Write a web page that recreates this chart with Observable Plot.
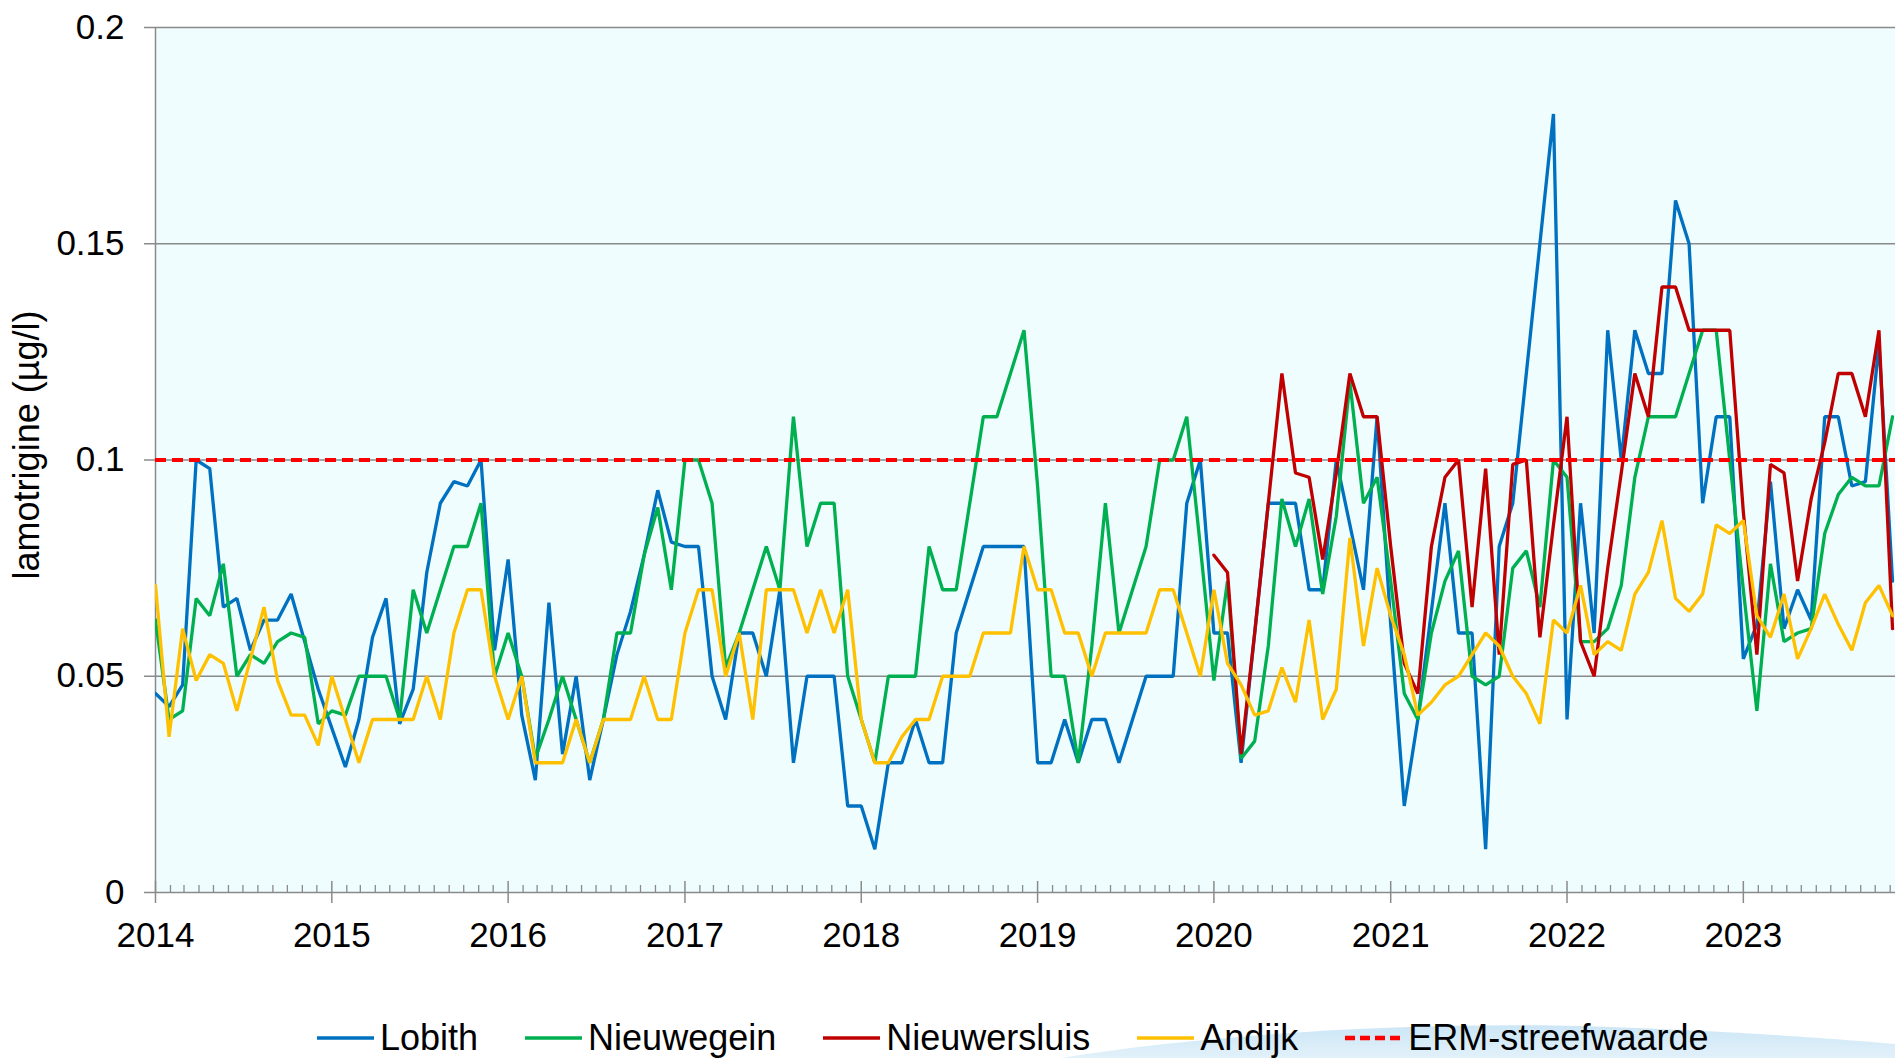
<!DOCTYPE html>
<html>
<head>
<meta charset="utf-8">
<script src="https://cdn.jsdelivr.net/npm/d3@7"></script>
<script src="https://cdn.jsdelivr.net/npm/@observablehq/plot@0.6"></script>
<style>
  html, body { margin: 0; padding: 0; background: #ffffff; }
  body { width: 1895px; height: 1058px; overflow: hidden; position: relative;
         font-family: "Liberation Sans", Arial, sans-serif; }
  #chart { position: absolute; left: 0; top: 0; }
  #swoosh { position: absolute; left: 0; top: 0; }
  #legend { position: absolute; left: 317px; top: 1017px; display: flex; align-items: center;
            font-size: 36px; color: #000; white-space: nowrap; }
  .item { display: flex; align-items: center; margin-right: 47px; }
  .item svg { margin-right: 6px; }
</style>
</head>
<body>
<svg id="swoosh" width="1895" height="1058"></svg>
<div id="chart"></div>
<div id="legend"></div>
<script>
// ---- data (4-weekly samples, 13 per year, starting January 2014) ----
const startYear = 2014;
const samplesPerYear = 13;

const lobith = [
  0.046, 0.043, 0.048, 0.100, 0.098, 0.066, 0.068, 0.056, 0.063, 0.063, 0.069, 0.058, 0.047,
  0.038, 0.029, 0.040, 0.059, 0.068, 0.039, 0.047, 0.074, 0.090, 0.095, 0.094, 0.100, 0.056,
  0.077, 0.041, 0.026, 0.067, 0.032, 0.050, 0.026, 0.040, 0.055, 0.065, 0.078, 0.093, 0.081,
  0.080, 0.080, 0.050, 0.040, 0.060, 0.060, 0.050, 0.070, 0.030, 0.050, 0.050, 0.050, 0.020,
  0.020, 0.010, 0.030, 0.030, 0.040, 0.030, 0.030, 0.060, 0.070, 0.080, 0.080, 0.080, 0.080,
  0.030, 0.030, 0.040, 0.030, 0.040, 0.040, 0.030, 0.040, 0.050, 0.050, 0.050, 0.090, 0.100,
  0.060, 0.060, 0.030, 0.060, 0.090, 0.090, 0.090, 0.070, 0.070, 0.100, 0.085, 0.070, 0.110,
  0.062, 0.020, 0.040, 0.065, 0.090, 0.060, 0.060, 0.010, 0.080, 0.090, 0.120, 0.150, 0.180,
  0.040, 0.090, 0.060, 0.130, 0.100, 0.130, 0.120, 0.120, 0.160, 0.150, 0.090, 0.110, 0.110,
  0.054, 0.062, 0.095, 0.061, 0.070, 0.063, 0.110, 0.110, 0.094, 0.095, 0.127, 0.072
];

const nieuwegein = [
  0.063, 0.040, 0.042, 0.068, 0.064, 0.076, 0.050, 0.055, 0.053, 0.058, 0.060, 0.059, 0.039,
  0.042, 0.041, 0.050, 0.050, 0.050, 0.040, 0.070, 0.060, 0.070, 0.080, 0.080, 0.090, 0.050,
  0.060, 0.050, 0.031, 0.040, 0.050, 0.040, 0.030, 0.040, 0.060, 0.060, 0.078, 0.089, 0.070,
  0.100, 0.100, 0.090, 0.052, 0.060, 0.070, 0.080, 0.070, 0.110, 0.080, 0.090, 0.090, 0.050,
  0.040, 0.030, 0.050, 0.050, 0.050, 0.080, 0.070, 0.070, 0.090, 0.110, 0.110, 0.120, 0.130,
  0.094, 0.050, 0.050, 0.030, 0.057, 0.090, 0.060, 0.070, 0.080, 0.100, 0.100, 0.110, 0.080,
  0.049, 0.072, 0.031, 0.035, 0.057, 0.091, 0.080, 0.091, 0.069, 0.087, 0.118, 0.090, 0.096,
  0.072, 0.046, 0.040, 0.060, 0.072, 0.079, 0.050, 0.048, 0.050, 0.075, 0.079, 0.066, 0.100,
  0.096, 0.058, 0.058, 0.061, 0.071, 0.096, 0.110, 0.110, 0.110, 0.120, 0.130, 0.130, 0.100,
  0.070, 0.042, 0.076, 0.058, 0.060, 0.061, 0.083, 0.092, 0.096, 0.094, 0.094, 0.110
];

// Nieuwersluis is only measured from 2020 (sample index 78) onwards
const nieuwersluisFirstSample = 78;
const nieuwersluis = [
  0.078, 0.074, 0.032, 0.060, 0.090, 0.120, 0.097, 0.096, 0.077, 0.097, 0.120, 0.110, 0.110,
  0.080, 0.053, 0.046, 0.080, 0.096, 0.100, 0.066, 0.098, 0.055, 0.099, 0.100, 0.059, 0.085,
  0.110, 0.058, 0.050, 0.075, 0.097, 0.120, 0.110, 0.140, 0.140, 0.130, 0.130, 0.130, 0.130,
  0.088, 0.055, 0.099, 0.097, 0.072, 0.091, 0.104, 0.120, 0.120, 0.110, 0.130, 0.061
];

const andijk = [
  0.071, 0.036, 0.061, 0.049, 0.055, 0.053, 0.042, 0.054, 0.066, 0.049, 0.041, 0.041, 0.034,
  0.050, 0.040, 0.030, 0.040, 0.040, 0.040, 0.040, 0.050, 0.040, 0.060, 0.070, 0.070, 0.050,
  0.040, 0.050, 0.030, 0.030, 0.030, 0.040, 0.030, 0.040, 0.040, 0.040, 0.050, 0.040, 0.040,
  0.060, 0.070, 0.070, 0.050, 0.060, 0.040, 0.070, 0.070, 0.070, 0.060, 0.070, 0.060, 0.070,
  0.040, 0.030, 0.030, 0.036, 0.040, 0.040, 0.050, 0.050, 0.050, 0.060, 0.060, 0.060, 0.080,
  0.070, 0.070, 0.060, 0.060, 0.050, 0.060, 0.060, 0.060, 0.060, 0.070, 0.070, 0.060, 0.050,
  0.070, 0.053, 0.048, 0.041, 0.042, 0.052, 0.044, 0.063, 0.040, 0.047, 0.082, 0.057, 0.075,
  0.064, 0.055, 0.041, 0.044, 0.048, 0.050, 0.055, 0.060, 0.057, 0.050, 0.046, 0.039, 0.063,
  0.060, 0.071, 0.055, 0.058, 0.056, 0.069, 0.074, 0.086, 0.068, 0.065, 0.069, 0.085, 0.083,
  0.086, 0.064, 0.059, 0.069, 0.054, 0.061, 0.069, 0.062, 0.056, 0.067, 0.071, 0.064
];

const ermStreefwaarde = 0.1;
const yTicks = [0, 0.05, 0.1, 0.15, 0.2];
const xTickYears = [2014, 2015, 2016, 2017, 2018, 2019, 2020, 2021, 2022, 2023];
const xDomainEnd = new Date(Date.UTC(2023, 10, 12)); // the picture is cut off here
const yLabel = "lamotrigine (µg/l)";

const seriesNames  = ["Lobith", "Nieuwegein", "Nieuwersluis", "Andijk"];
const seriesColors = ["#0070C0", "#00B050", "#C00000", "#FFC000"];
const ermName = "ERM-streefwaarde";
const ermColor = "#FF0000";

// ---- helpers ----
function sampleDate(i) {
  const y = startYear + Math.floor(i / samplesPerYear);
  const k = i % samplesPerYear;
  const t0 = Date.UTC(y, 0, 1), t1 = Date.UTC(y + 1, 0, 1);
  return new Date(t0 + (t1 - t0) * k / samplesPerYear);
}
function rows(values, offset = 0) {
  return values.map((v, j) => ({date: sampleDate(j + offset), value: v}));
}
const seriesRows = [rows(lobith), rows(nieuwegein), rows(nieuwersluis, nieuwersluisFirstSample), rows(andijk)];

const xStart = new Date(Date.UTC(startYear, 0, 1));
const yearDates = xTickYears.map(y => new Date(Date.UTC(y, 0, 1)));
const monthDates = d3.utcMonth.range(xStart, xDomainEnd).filter(d => d.getUTCMonth() !== 0);

const gray = "#8a8a8a";
const font = "'Liberation Sans', Arial, sans-serif";

const chart = Plot.plot({
  width: 1895,
  height: 960,
  marginLeft: 155,
  marginRight: 0,
  marginTop: 27,
  marginBottom: 68,
  style: {fontFamily: font, fontSize: "35px", background: "transparent", color: "#000", maxWidth: "none"},
  x: {type: "utc", domain: [xStart, xDomainEnd], axis: null},
  y: {domain: [0, 0.2], axis: null},
  marks: [
    Plot.frame({fill: "#effdfe", stroke: null}),
    Plot.gridY(yTicks.filter(v => v > 0), {stroke: gray, strokeOpacity: 1, strokeWidth: 1.3}),
    Plot.ruleX([xStart], {stroke: gray, strokeWidth: 1.5}),
    Plot.ruleY([0], {stroke: gray, strokeWidth: 1.5}),
    Plot.ruleX(monthDates, {x: d => d, y1: 0, y2: 0, insetTop: -7, insetBottom: 0, stroke: gray, strokeWidth: 1.3}),
    Plot.ruleX(yearDates, {x: d => d, y1: 0, y2: 0, insetTop: -11, insetBottom: -11, stroke: gray, strokeWidth: 1.5}),
    Plot.axisY(yTicks, {anchor: "left", tickSize: 11, tickPadding: 20, stroke: gray, strokeWidth: 1.5,
                        fontSize: 35, label: null, tickFormat: d => String(d)}),
    Plot.axisX(yearDates, {anchor: "bottom", tickSize: 0, tickPadding: 30, fontSize: 35, label: null,
                           tickFormat: d3.utcFormat("%Y")}),
    Plot.text([yLabel], {frameAnchor: "left", dx: -128, dy: -15, rotate: -90, textAnchor: "middle",
                         fontSize: 36, text: d => d}),
    ...seriesRows.map((data, s) =>
      Plot.line(data, {x: "date", y: "value", stroke: seriesColors[s], strokeWidth: 3.3,
                       strokeLinejoin: "miter", clip: true})
    ),
    Plot.ruleY([ermStreefwaarde], {stroke: ermColor, strokeWidth: 4, strokeDasharray: "11,6"})
  ]
});
document.getElementById("chart").appendChild(chart);

// ---- legend ----
const legend = d3.select("#legend");
const legendItems = seriesNames.map((n, i) => ({name: n, color: seriesColors[i], dash: null}))
  .concat([{name: ermName, color: ermColor, dash: "10,5"}]);
for (const it of legendItems) {
  const item = legend.append("div").attr("class", "item");
  const sw = item.append("svg").attr("width", 57).attr("height", 12);
  sw.append("line").attr("x1", 0).attr("x2", 57).attr("y1", 6).attr("y2", 6)
    .attr("stroke", it.color).attr("stroke-width", it.dash ? 4.5 : 3.5)
    .attr("stroke-dasharray", it.dash);
  item.append("span").text(it.name);
}

// ---- faint logo swoosh behind the legend ----
const sv = d3.select("#swoosh");
const grad = sv.append("defs").append("linearGradient").attr("id", "sg")
  .attr("x1", 0).attr("x2", 0).attr("y1", 0).attr("y2", 1);
grad.append("stop").attr("offset", "0%").attr("stop-color", "#cce6f6");
grad.append("stop").attr("offset", "100%").attr("stop-color", "#e2f1fa");
sv.append("path")
  .attr("d", "M1060,1058 C1220,1032 1430,1022 1580,1026 C1740,1031 1850,1040 1895,1044 L1895,1058 Z")
  .attr("fill", "url(#sg)");
</script>
</body>
</html>
